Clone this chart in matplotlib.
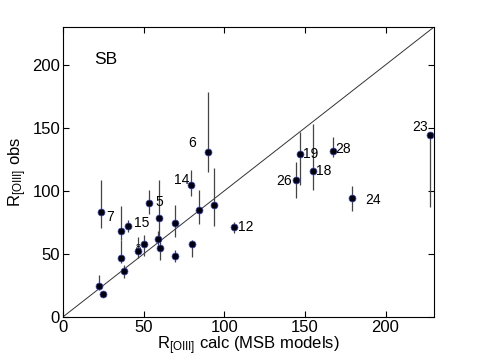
import numpy as np
import matplotlib
matplotlib.use("Agg")
import matplotlib.pyplot as plt

plt.rcParams['font.family'] = ['Liberation Sans', 'DejaVu Sans']
plt.rcParams['mathtext.default'] = 'regular'

# calculated vs observed R[OIII], with lower/upper end of the error bars
r_calc = [22.2, 24.7, 23.7, 36.0, 36.0, 37.8, 40.6, 46.3, 50.0, 53.3,
          59.3, 59.1, 59.9, 69.3, 69.3, 80.0, 79.2, 84.4, 90.0, 93.5,
          105.8, 144.4, 147.1, 155.2, 167.2, 179.5, 227.4]
r_obs = [24.5, 18.2, 83.6, 68.0, 47.0, 36.6, 72.2, 52.4, 57.5, 90.4,
         78.5, 61.5, 54.8, 74.2, 48.3, 58.2, 105.0, 85.1, 131.2, 89.2,
         71.0, 109.0, 129.0, 115.6, 132.0, 94.7, 144.0]
r_lo = [21, 17.5, 70.7, 61, 42.7, 31, 67.5, 46.7, 48, 82,
        61, 55, 45, 63.5, 43.5, 47.6, 95.6, 74, 115.4, 72.5,
        66.5, 94.7, 104.5, 100.5, 127, 84, 87]
r_hi = [33, 19, 109, 88, 61, 41, 76.7, 63.5, 64.8, 100.5,
        108.7, 68, 60, 89, 53, 61, 116.7, 100.4, 178.5, 118.3,
        75.5, 123, 146.7, 152.8, 143, 103.7, 144]
labels = ['', '', '7', '', '', '', '15', '', '8', '5',
          '', '', '', '', '', '', '14', '', '6', '',
          '12', '26', '19', '18', '28', '24', '23']

# label offsets in points (dx, dy, ha)
offsets = {'7': (4, -4, 'left'), '15': (4, 2, 'left'), '8': (-2, -2, 'right'),
           '5': (5, 1, 'left'), '14': (-1, 3, 'right'), '6': (-9, 6, 'right'),
           '12': (3, 0, 'left'), '26': (-3, -1, 'right'), '19': (2, 0, 'left'),
           '18': (2, 0, 'left'), '28': (2, 1, 'left'), '24': (9, -2, 'left'),
           '23': (-1, 6, 'right')}

fig = plt.figure(figsize=(4.8, 3.61), dpi=100)
ax = fig.add_axes([0.131, 0.122, 0.773, 0.803])

ax.plot([0, 230], [0, 230], color='#333333', lw=0.7)

x = np.array(r_calc)
y = np.array(r_obs)
err = [y - np.array(r_lo), np.array(r_hi) - y]
ax.errorbar(x, y, yerr=err, fmt='o', color='black', ecolor='#444444',
            elinewidth=0.9, capsize=0, markersize=5,
            markerfacecolor='black', markeredgecolor='#3344ee', markeredgewidth=0.5)

for xi, yi, lab in zip(r_calc, r_obs, labels):
    if lab:
        dx, dy, ha = offsets[lab]
        fs = 6.5 if lab == '8' else 10
        ax.annotate(lab, (xi, yi), xytext=(dx, dy), textcoords='offset points',
                    ha=ha, va='center', fontsize=fs)

ax.text(26.8, 204, 'SB', fontsize=12.5, ha='center', va='center')

ax.set_xlim(0, 230)
ax.set_ylim(0, 230)
ax.set_xticks([0, 50, 100, 150, 200])
ax.set_yticks([0, 50, 100, 150, 200])
ax.tick_params(direction='in', top=True, right=True, labelsize=12, length=4, pad=2)
ax.set_xlabel(r'R$_{[OIII]}$ calc (MSB models)', fontsize=12, labelpad=0)
ax.set_ylabel(r'R$_{[OIII]}$ obs', fontsize=12, labelpad=2)
for s in ax.spines.values():
    s.set_linewidth(0.8)

fig.savefig('out.png', dpi=100)
